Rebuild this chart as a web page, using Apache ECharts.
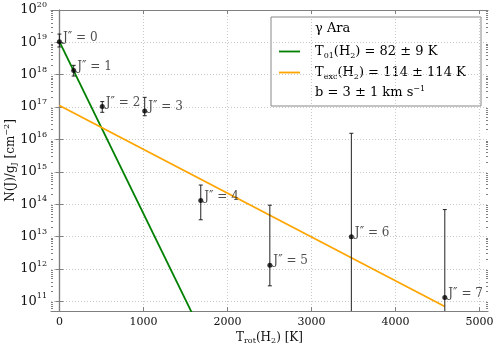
<!DOCTYPE html>
<html>
<head>
<meta charset="utf-8">
<script src="https://cdn.jsdelivr.net/npm/echarts@6/dist/echarts.min.js"></script>
<style>
  html, body { margin: 0; padding: 0; background: #fff; }
  #chart { width: 498px; height: 347px; }
</style>
</head>
<body>
<div id="chart"></div>
<script>
// rotational levels, energies E(J)/k [K] and N(J)/gJ [cm^-2]
const jLevels = ['0', '1', '2', '3', '4', '5', '6', '7']
const energyK = [0, 170, 510, 1015, 1682, 2504, 3474, 4586]
const columnDensity = [1.05e19, 1.35e18, 1.05e17, 7.6e16, 1.3e14, 1.3e12, 9.8e12, 1.3e11]
const errLow = [7.2e18, 9.1e17, 6.9e16, 5.4e16, 3.3e13, 3.0e11, 1e9, 1e9]
const errHigh = [1.8e19, 1.95e18, 1.48e17, 2.0e17, 3.9e14, 9.3e13, 1.55e16, 6.8e13]

// fitted excitation lines (endpoints)
const t01X = [0, 1600]
const t01Y = [1.05e19, 3.3e10]
const texcX = [0, 4586]
const texcY = [1.12e17, 6.9e10]

const xTicks = [0, 1000, 2000, 3000, 4000, 5000]
const yTicks = [1e11, 1e12, 1e13, 1e14, 1e15, 1e16, 1e17, 1e18, 1e19, 1e20]
const yMinorTicks = []
yTicks.concat([1e10]).forEach(d => { for (let k = 2; k <= 9; k++) yMinorTicks.push(d * k) })

const FONT = 'DejaVu Serif'
const SPINE = '#808080'
const INK = '#111'

const chart = echarts.init(document.getElementById('chart'), null, { renderer: 'canvas' })

const supRich = {
  b: { fontFamily: FONT, fontSize: 13, color: INK, lineHeight: 18, verticalAlign: 'middle' },
  s: { fontFamily: FONT, fontSize: 8, color: INK, lineHeight: 8, verticalAlign: 'top' }
}
const txtRich = {
  m: { fontFamily: FONT, fontSize: 13, color: INK, lineHeight: 16, verticalAlign: 'middle' },
  sub: { fontFamily: FONT, fontSize: 8, color: INK, lineHeight: 10, verticalAlign: 'bottom' },
  sup: { fontFamily: FONT, fontSize: 8, color: INK, lineHeight: 10, verticalAlign: 'top' }
}
const nameRich = {
  m: { fontFamily: FONT, fontSize: 12, color: INK, lineHeight: 15, verticalAlign: 'middle' },
  sub: { fontFamily: FONT, fontSize: 8, color: INK, lineHeight: 9, verticalAlign: 'bottom' },
  sup: { fontFamily: FONT, fontSize: 8, color: INK, lineHeight: 9, verticalAlign: 'top' }
}

const yExp = v => Math.round(Math.log10(v))

const baseY = {
  type: 'log',
  logBase: 10,
  min: 5e10,
  max: 1e20,
  axisLine: { show: true, lineStyle: { color: SPINE, width: 1.2 } }
}

chart.setOption({
  animation: false,
  grid: { left: 51, right: 10, top: 10, bottom: 36, outerBoundsMode: 'none', containLabel: false },
  xAxis: [
    {
      type: 'value',
      min: -100,
      max: 5100,
      position: 'bottom',
      name: '{m|T}{sub|rot}{m|(H}{sub|2}{m|) [K]}',
      nameLocation: 'middle',
      nameGap: 19,
      nameMoveOverlap: false,
      nameTextStyle: { rich: nameRich },
      axisLine: { show: true, lineStyle: { color: SPINE, width: 1.2 } },
      axisTick: { show: true, inside: true, length: 4, customValues: xTicks, lineStyle: { color: SPINE } },
      axisLabel: { customValues: xTicks, margin: 6, formatter: v => String(v), fontFamily: FONT, fontSize: 11, color: INK },
      splitLine: { show: true, lineStyle: { color: '#c8c8c8', type: [1, 2], width: 1 } }
    },
    {
      type: 'value',
      min: -100,
      max: 5100,
      position: 'top',
      axisLine: { show: true, lineStyle: { color: SPINE, width: 1.2 } },
      axisTick: { show: true, inside: true, length: 4, customValues: xTicks, lineStyle: { color: SPINE } },
      axisLabel: { show: false },
      splitLine: { show: false }
    }
  ],
  yAxis: [
    Object.assign({}, baseY, {
      position: 'left',
      name: '{m|N(J)/g}{sub|J}{m| [cm}{sup|−2}{m|]}',
      nameLocation: 'middle',
      nameGap: 33,
      nameMoveOverlap: false,
      nameTextStyle: { rich: nameRich },
      axisTick: { show: true, inside: true, length: 4, customValues: yTicks, lineStyle: { color: SPINE } },
      axisLabel: {
        customValues: yTicks,
        margin: 4,
        formatter: v => '{b|10}{s|' + yExp(v) + '}',
        rich: supRich
      },
      splitLine: { show: true, lineStyle: { color: '#c8c8c8', type: [1, 2], width: 1 } }
    }),
    Object.assign({}, baseY, {
      position: 'right',
      axisTick: { show: true, inside: true, length: 4, customValues: yTicks, lineStyle: { color: SPINE } },
      axisLabel: { show: false },
      splitLine: { show: false }
    }),
    Object.assign({}, baseY, {
      position: 'left',
      axisLine: { show: false },
      axisTick: { show: true, inside: true, length: 2, customValues: yMinorTicks, lineStyle: { color: SPINE } },
      axisLabel: { show: false },
      splitLine: { show: false }
    }),
    Object.assign({}, baseY, {
      position: 'right',
      axisLine: { show: false },
      axisTick: { show: true, inside: true, length: 2, customValues: yMinorTicks, lineStyle: { color: SPINE } },
      axisLabel: { show: false },
      splitLine: { show: false }
    })
  ],
  series: [
    {
      name: 'T01',
      type: 'line',
      data: t01X.map((x, i) => [x, t01Y[i]]),
      showSymbol: false,
      clip: true,
      lineStyle: { color: '#008000', width: 1.8 },
      z: 3
    },
    {
      name: 'Texc',
      type: 'line',
      data: texcX.map((x, i) => [x, texcY[i]]),
      showSymbol: false,
      clip: true,
      lineStyle: { color: '#ffa500', width: 1.8 },
      z: 3
    },
    {
      name: 'errors',
      type: 'custom',
      data: energyK.map((x, i) => [x, errLow[i], errHigh[i]]),
      renderItem: (params, api) => {
        const x = api.value(0)
        const top = api.coord([x, api.value(2)])
        const bot = api.coord([x, api.value(1)])
        const cs = params.coordSys
        const yMax = cs.y + cs.height
        const yb = Math.min(bot[1], yMax)
        const cap = 2
        const children = [
          { type: 'line', shape: { x1: top[0], y1: top[1], x2: top[0], y2: yb }, style: { stroke: '#222', lineWidth: 1 } },
          { type: 'line', shape: { x1: top[0] - cap, y1: top[1], x2: top[0] + cap, y2: top[1] }, style: { stroke: '#222', lineWidth: 1 } }
        ]
        if (bot[1] <= yMax) {
          children.push({ type: 'line', shape: { x1: top[0] - cap, y1: yb, x2: top[0] + cap, y2: yb }, style: { stroke: '#222', lineWidth: 1 } })
        }
        return { type: 'group', children }
      },
      z: 4
    },
    {
      name: 'levels',
      type: 'scatter',
      data: energyK.map((x, i) => ({ value: [x, columnDensity[i]], name: jLevels[i] })),
      symbolSize: 5,
      itemStyle: { color: '#000' },
      label: {
        show: true,
        position: 'right',
        distance: 1,
        offset: [0, -4],
        formatter: p => 'J″ = ' + p.name,
        fontFamily: FONT,
        fontSize: 12,
        color: '#222'
      },
      z: 5
    }
  ],
  graphic: [
    {
      type: 'group',
      x: 271,
      y: 17,
      z: 100,
      children: [
        { type: 'rect', shape: { x: 0, y: 0, width: 210, height: 89 }, style: { fill: '#fff', stroke: '#888', lineWidth: 1 } },
        { type: 'text', style: { x: 44, y: 12, text: '{m|γ Ara}', rich: txtRich, verticalAlign: 'middle' } },
        { type: 'line', shape: { x1: 8, y1: 34.5, x2: 29, y2: 34.5 }, style: { stroke: '#008000', lineWidth: 1.8 } },
        { type: 'text', style: { x: 44, y: 34.5, text: '{m|T}{sub|01}{m|(H}{sub|2}{m|) = 82 ± 9 K}', rich: txtRich, verticalAlign: 'middle' } },
        { type: 'line', shape: { x1: 8, y1: 55.5, x2: 29, y2: 55.5 }, style: { stroke: '#ffa500', lineWidth: 1.8 } },
        { type: 'text', style: { x: 44, y: 55.5, text: '{m|T}{sub|exc}{m|(H}{sub|2}{m|) = 114 ± 114 K}', rich: txtRich, verticalAlign: 'middle' } },
        { type: 'text', style: { x: 44, y: 75.5, text: '{m|b = 3 ± 1 km s}{sup|−1}', rich: txtRich, verticalAlign: 'middle' } }
      ]
    }
  ]
})
</script>
</body>
</html>
